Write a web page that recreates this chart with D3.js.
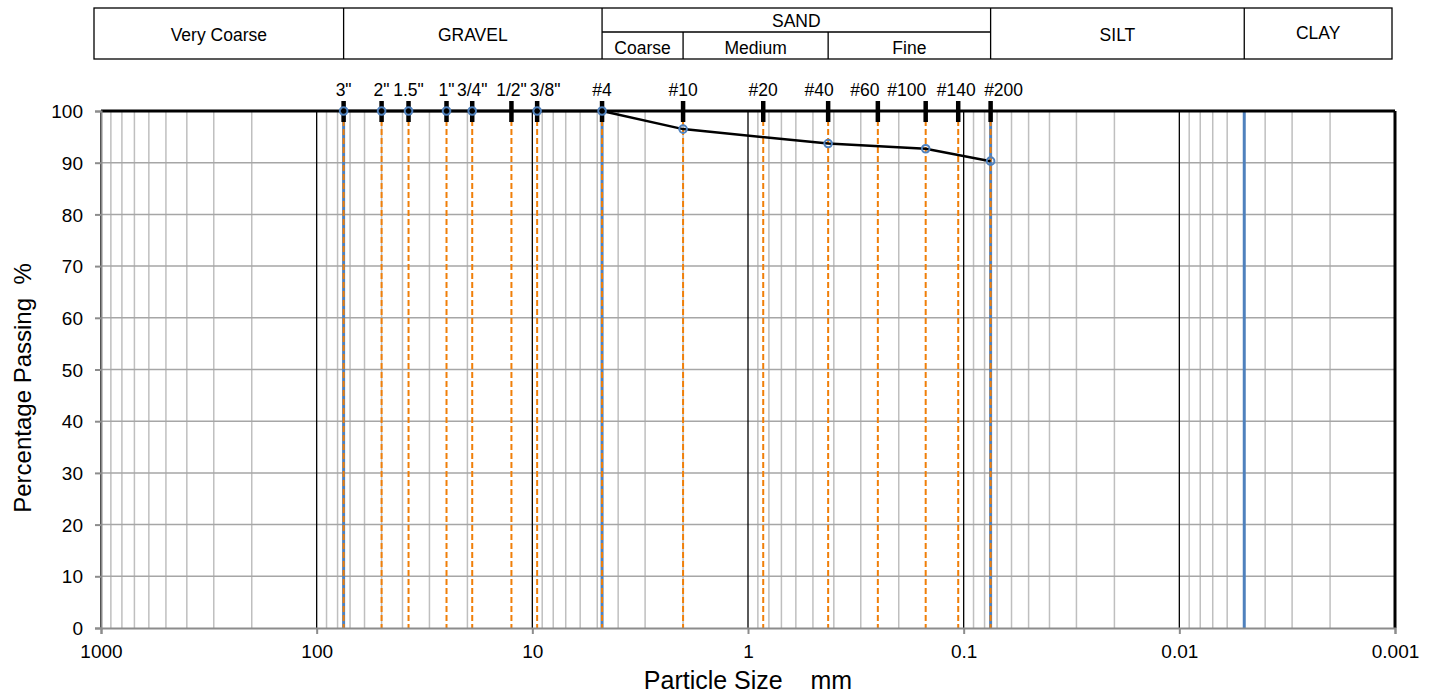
<!DOCTYPE html>
<html>
<head>
<meta charset="utf-8">
<script src="https://cdn.jsdelivr.net/npm/d3@7"></script>
<style>
body { margin: 0; background: #fff; }
text { font-family: "Liberation Sans", Arial, sans-serif; fill: #000; }
</style>
</head>
<body>
<svg id="chart" width="1434" height="696"></svg>
<script>
// sieve sizes (mm) and their names
var sieveLabels = ['3"', '2"', '1.5"', '1"', '3/4"', '1/2"', '3/8"', '#4', '#10', '#20', '#40', '#60', '#100', '#140', '#200'];
var sieveSizes = [75, 50, 37.5, 25, 19, 12.5, 9.5, 4.75, 2.0, 0.85, 0.425, 0.25, 0.15, 0.106, 0.075];

// test result
var testSizes = [75, 50, 37.5, 25, 19, 9.5, 4.75, 2.0, 0.425, 0.15, 0.075];
var testPassing = [100, 100, 100, 100, 100, 100, 100, 96.5, 93.7, 92.7, 90.3];

// soil class boundaries (mm)
var classBounds = [1000, 75, 4.75, 0.075, 0.005, 0.001];
var classNames = ["Very Coarse", "GRAVEL", "SAND", "SILT", "CLAY"];
var sandBounds = [4.75, 2.0, 0.425, 0.075];
var sandNames = ["Coarse", "Medium", "Fine"];
var blueLines = [75, 4.75, 0.075, 0.005];

var xTicks = [1000, 100, 10, 1, 0.1, 0.01, 0.001];
var yTicks = [0, 10, 20, 30, 40, 50, 60, 70, 80, 90, 100];

var margin = {top: 111, right: 39, bottom: 68, left: 101},
    width = 1434 - margin.left - margin.right,
    height = 696 - margin.top - margin.bottom;

var x = d3.scaleLog().domain([1000, 0.001]).range([0, width]);
var y = d3.scaleLinear().domain([0, 100]).range([height, 0]);

var svg = d3.select("#chart");
var g = svg.append("g").attr("transform", "translate(" + margin.left + "," + margin.top + ")");

// minor vertical grid
var minor = [];
xTicks.slice(1).forEach(function(d) {
    for (var k = 2; k <= 9; k++) minor.push(d * k);
});
g.selectAll(".minor").data(minor).enter().append("line")
    .attr("x1", function(d) { return x(d); }).attr("x2", function(d) { return x(d); })
    .attr("y1", 0).attr("y2", height)
    .attr("stroke", "#bfbfbf").attr("stroke-width", 1.5);

// horizontal grid
g.selectAll(".hgrid").data(yTicks.slice(1, -1)).enter().append("line")
    .attr("x1", 0).attr("x2", width)
    .attr("y1", function(d) { return y(d); }).attr("y2", function(d) { return y(d); })
    .attr("stroke", "#a6a6a6").attr("stroke-width", 1.5);

// major decade lines
g.selectAll(".major").data(xTicks.slice(1, -1)).enter().append("line")
    .attr("x1", function(d) { return x(d); }).attr("x2", function(d) { return x(d); })
    .attr("y1", 0).attr("y2", height)
    .attr("stroke", "#000").attr("stroke-width", 1.3);

// boundary lines
g.selectAll(".blue").data(blueLines).enter().append("line")
    .attr("x1", function(d) { return x(d); }).attr("x2", function(d) { return x(d); })
    .attr("y1", 0).attr("y2", height)
    .attr("stroke", "#4f81bd").attr("stroke-width", 3);

// sieve lines
g.selectAll(".sieve").data(sieveSizes).enter().append("line")
    .attr("x1", function(d) { return x(d); }).attr("x2", function(d) { return x(d); })
    .attr("y1", 0).attr("y2", height)
    .attr("stroke", "#f07f09").attr("stroke-width", 2)
    .attr("stroke-dasharray", "6,3");

// frame
g.append("line").attr("x1", 0).attr("x2", 0).attr("y1", 0).attr("y2", height)
    .attr("stroke", "#000").attr("stroke-width", 1.8);
g.append("line").attr("x1", width).attr("x2", width).attr("y1", 0).attr("y2", height)
    .attr("stroke", "#000").attr("stroke-width", 3);
g.append("line").attr("x1", 0).attr("x2", width).attr("y1", 0).attr("y2", 0)
    .attr("stroke", "#000").attr("stroke-width", 3);

// axes
var xAxis = g.append("g").attr("transform", "translate(0," + height + ")")
    .call(d3.axisBottom(x).tickValues(xTicks).tickSize(6).tickPadding(11)
        .tickFormat(function(d) { return String(d); }));
var yAxis = g.append("g")
    .call(d3.axisLeft(y).tickValues(yTicks).tickSize(6).tickPadding(12));
[xAxis, yAxis].forEach(function(a) {
    a.select(".domain").attr("stroke", "#8c8c8c").attr("stroke-width", 2);
    a.selectAll(".tick line").attr("stroke", "#8c8c8c").attr("stroke-width", 2);
    a.selectAll("text").style("font-size", "19px").attr("font-family", "Liberation Sans, Arial, sans-serif");
});
yAxis.selectAll(".tick text").attr("dy", "0.35em");

// sieve markers and labels (labels nudged sideways like the original)
var labelNudge = [0, 0, 0, 0, 0, 0, 8, 0, 0, 0, -9, -13, -19, -2, 13];
g.selectAll(".mark").data(sieveSizes).enter().append("line")
    .attr("x1", function(d) { return x(d); }).attr("x2", function(d) { return x(d); })
    .attr("y1", -10).attr("y2", 11)
    .attr("stroke", "#000").attr("stroke-width", 4.5);
g.selectAll(".slabel").data(sieveLabels).enter().append("text")
    .attr("x", function(d, i) { return x(sieveSizes[i]) + labelNudge[i]; })
    .attr("y", -15)
    .attr("text-anchor", "middle")
    .style("font-size", "17.5px")
    .text(function(d) { return d; });

// grading curve
var pts = testSizes.map(function(d, i) { return [d, testPassing[i]]; });
g.append("path").datum(pts)
    .attr("fill", "none").attr("stroke", "#000").attr("stroke-width", 2.5)
    .attr("d", d3.line().x(function(d) { return x(d[0]); }).y(function(d) { return y(d[1]); }));
g.selectAll(".pt").data(pts).enter().append("circle")
    .attr("cx", function(d) { return x(d[0]); }).attr("cy", function(d) { return y(d[1]); })
    .attr("r", 3.8).attr("fill", "none").attr("stroke", "#4f81bd").attr("stroke-width", 2);

// axis titles
svg.append("text").attr("x", margin.left + x(1)).attr("y", 689)
    .attr("text-anchor", "middle").style("font-size", "25px")
    .attr("xml:space", "preserve").text("Particle Size    mm");
svg.append("text").attr("transform", "translate(31,388) rotate(-90)")
    .attr("text-anchor", "middle").style("font-size", "24px")
    .attr("xml:space", "preserve").text("Percentage Passing  %");

// classification table
var tTop = 8, tMid = 32, tBot = 59;
var tx = function(d) {
    if (d === 1000) return margin.left + x(d) - 7;
    if (d === 0.001) return margin.left + x(d) - 3;
    return margin.left + x(d);
};
var tbl = svg.append("g");
tbl.append("rect").attr("x", tx(1000)).attr("y", tTop)
    .attr("width", tx(0.001) - tx(1000)).attr("height", tBot - tTop)
    .attr("fill", "none").attr("stroke", "#000").attr("stroke-width", 1.3);
tbl.selectAll(".cdiv").data(classBounds.slice(1, -1)).enter().append("line")
    .attr("x1", tx).attr("x2", tx).attr("y1", tTop).attr("y2", tBot)
    .attr("stroke", "#000").attr("stroke-width", 1.3);
tbl.append("line").attr("x1", tx(4.75)).attr("x2", tx(0.075)).attr("y1", tMid).attr("y2", tMid)
    .attr("stroke", "#000").attr("stroke-width", 1.3);
tbl.selectAll(".sdiv").data(sandBounds.slice(1, -1)).enter().append("line")
    .attr("x1", tx).attr("x2", tx).attr("y1", tMid).attr("y2", tBot)
    .attr("stroke", "#000").attr("stroke-width", 1.3);
tbl.selectAll(".cname").data(classNames).enter().append("text")
    .attr("x", function(d, i) { return (tx(classBounds[i]) + tx(classBounds[i + 1])) / 2; })
    .attr("y", function(d) { return d === "SAND" ? 27 : (d === "CLAY" ? 39 : 41); })
    .attr("text-anchor", "middle").style("font-size", "17.5px")
    .text(function(d) { return d; });
tbl.selectAll(".sname").data(sandNames).enter().append("text")
    .attr("x", function(d, i) { return (tx(sandBounds[i]) + tx(sandBounds[i + 1])) / 2; })
    .attr("y", 54)
    .attr("text-anchor", "middle").style("font-size", "17.5px")
    .text(function(d) { return d; });
</script>
</body>
</html>
